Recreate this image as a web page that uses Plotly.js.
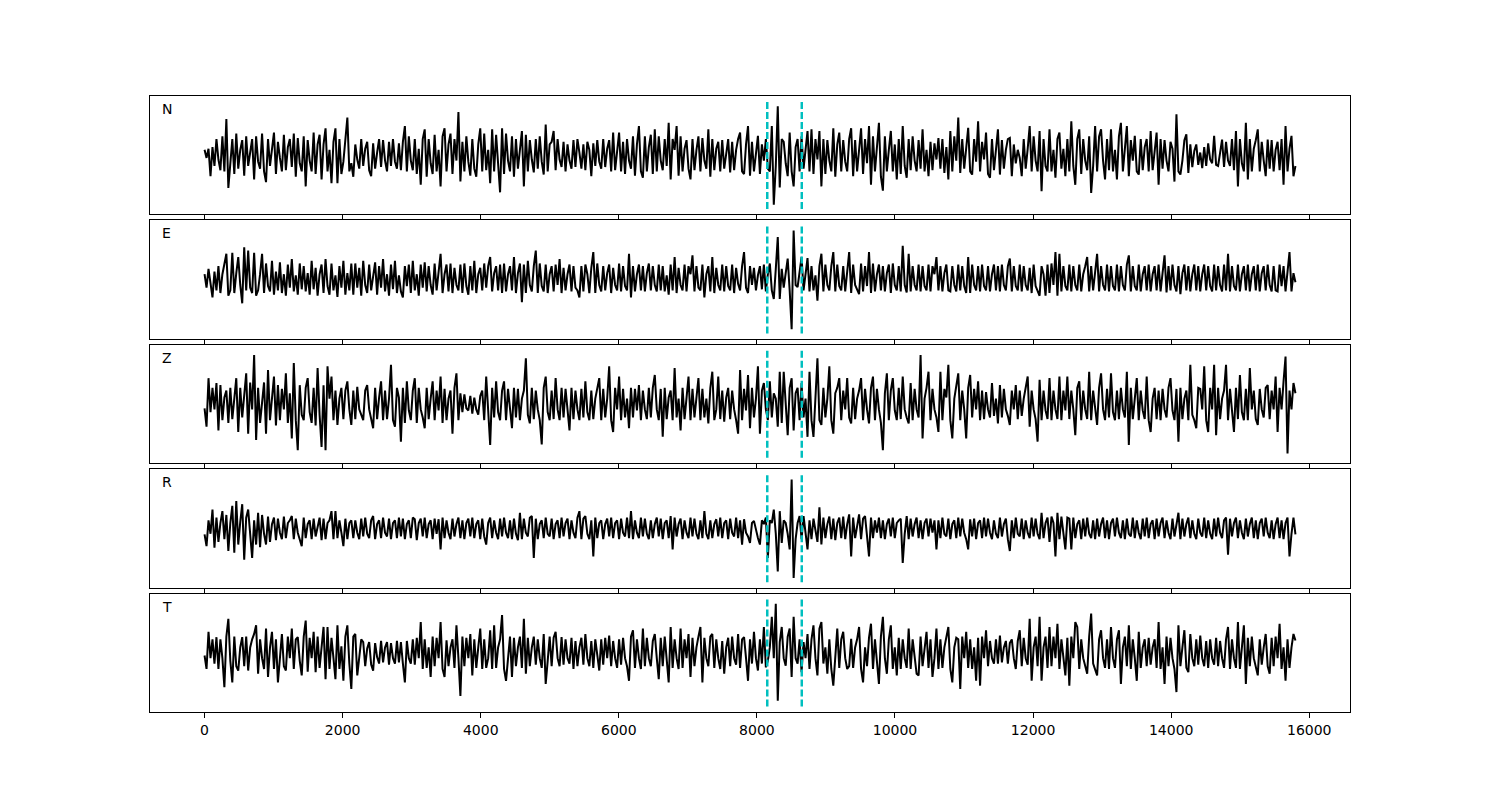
<!DOCTYPE html>
<html><head><meta charset="utf-8">
<script src="https://cdn.plot.ly/plotly-3.0.1.min.js"></script>
<style>html,body{margin:0;padding:0;background:#fff}#chart{width:1500px;height:800px}</style>
</head><body><div id="chart"></div>
<script>
// channel labels
const channels = ['N', 'E', 'Z', 'R', 'T'];
// amplitudes in hundredths of the normalised unit, evenly spaced over samples 0..15800
const seriesN = [
10,-5,12,-39,15,-20,30,-8,-28,35,-30,67,-61,-10,30,-35,40,-25,10,28,-38,35,-20,5,30,
-45,35,-12,-25,40,-30,-50,30,-20,8,42,-35,25,-5,-30,38,-28,15,30,-22,40,-40,32,-15,-30,
35,-58,28,-10,-30,42,-35,20,38,-45,20,50,-30,10,-52,25,50,-52,30,-35,-12,25,70,-30,-15,
-40,20,-8,-25,30,-20,12,25,-28,-39,22,-25,5,30,-22,28,-10,-30,25,-20,30,-12,-25,22,-28,
25,54,-30,35,-10,-28,30,-35,12,-55,30,48,-40,30,-15,-35,38,-30,10,-58,35,50,-30,20,40,
-35,30,-10,80,-49,25,-30,35,-12,-38,30,-25,-40,20,50,-30,40,-28,10,-52,48,-30,38,-20,-69,
50,-35,40,-10,-30,35,-40,30,-25,10,45,-58,38,-30,28,-8,-32,30,-25,35,-12,-36,57,-30,20,
25,45,-28,30,-8,-22,25,-30,20,-10,-25,28,-22,30,5,-25,20,-28,25,10,-39,22,-20,28,-12,
-25,30,-22,12,28,-30,42,-28,10,42,-30,25,-35,30,-10,-25,35,-38,20,54,-30,-42,35,-30,15,
38,-35,48,-30,35,-10,-28,30,-20,60,-45,30,10,54,-38,35,-30,12,28,-25,-45,30,-28,10,35,
-30,32,-10,-25,48,-40,30,-28,12,25,-30,28,-25,8,30,-32,25,-28,10,30,42,-30,-35,20,54,
-38,25,-30,10,36,-35,20,-10,30,-25,-30,54,-92,-20,91,-60,30,25,-15,-39,42,-30,-58,15,30,
-30,35,-25,10,45,-30,48,-35,30,-8,45,-58,30,-35,28,-10,-30,50,-40,20,42,-30,28,-12,-30,
30,50,-39,28,-30,10,50,-35,30,-15,54,-55,35,-30,12,60,-40,-66,35,-30,10,45,-30,20,-45,
30,-35,54,-20,-42,30,-28,35,-10,-30,28,-25,48,-30,10,-39,25,-28,22,-8,32,-25,30,-33,15,
-45,45,-30,35,-10,70,-33,30,-25,10,51,-30,-36,30,-12,63,-30,25,-8,42,-35,-42,30,-28,12,
48,-36,28,-25,10,30,32,-39,20,-15,10,-5,-39,30,-25,12,54,-30,35,-10,-30,45,-67,30,-20,
-30,48,-30,10,-42,30,42,-25,12,-39,30,-30,63,-20,-55,30,48,-35,30,-10,-28,35,-70,-20,54,
-30,35,48,-10,-45,30,-28,48,-30,10,-45,35,60,-30,12,54,-39,28,-10,36,-30,-36,30,-28,15,
30,-30,45,-28,10,42,-55,30,-25,28,-10,-30,25,12,-49,76,-30,-36,-10,28,39,-33,20,-22,8,
20,-18,5,-24,15,-20,22,-8,-15,36,-18,-20,10,29,-22,25,-10,-20,30,-28,45,-58,30,-15,-30,
60,-45,30,-30,12,28,48,-30,25,-10,-39,29,-25,28,-30,10,25,-28,30,-55,54,-30,12,36,-39,-20
];
const seriesE = [
10,-15,20,-8,-33,15,-20,25,-25,10,30,48,-30,-20,50,-25,12,42,-10,-44,60,-20,54,-15,-25,
50,-30,-20,10,48,-25,30,-12,-22,35,-28,15,-20,32,-25,10,-30,28,-15,38,-22,8,-28,30,-18,
25,-22,12,-28,35,-18,22,-30,10,28,-25,38,-12,-28,30,-20,8,-32,25,-15,35,-28,12,-20,30,
-28,30,-15,22,-30,35,-10,-25,28,-20,12,32,-28,25,-15,38,-22,10,-30,28,-18,35,-25,8,-22,
-33,25,-12,28,-25,35,-20,10,-30,28,-15,32,-22,25,-10,-28,30,-20,12,48,-25,10,28,-22,30,
-25,22,-10,-20,28,-25,30,-12,-28,25,-20,35,-25,10,22,-20,30,-15,25,42,-22,12,25,-20,28,
-25,30,-22,10,25,-20,42,-25,12,30,-42,28,-25,35,-10,-22,25,54,-25,30,-12,-22,28,-25,10,
25,-22,28,-10,38,-25,22,-20,10,28,-22,25,-15,-20,-33,25,-22,28,10,-25,22,51,-25,30,-10,
-22,25,-20,12,28,-25,22,-10,-20,30,-22,25,-12,-20,48,-33,25,-22,10,28,-20,25,-22,12,30,
-20,25,-10,-22,28,-20,25,-22,8,-28,28,-20,42,-25,22,-10,-20,28,-22,25,10,45,-22,25,-15,
-20,28,-33,10,25,-22,42,-25,22,-10,-20,28,-22,25,-12,-20,28,-25,22,-8,-20,25,51,-15,-25,
25,-10,22,-20,8,25,-18,28,-22,10,30,-20,-36,20,79,-36,20,-15,10,39,-20,-92,91,-10,-14,
20,42,-20,10,40,-22,25,-20,8,-39,25,48,-22,28,-10,-20,25,51,-22,28,-12,-20,25,-22,10,
51,-25,28,-10,-20,-27,30,-22,25,-12,51,-25,30,-22,10,28,-20,25,-22,12,28,-25,30,-10,-20,
25,-22,63,-10,-24,48,-22,25,-10,-20,28,-22,25,-12,-20,28,-22,25,10,42,-20,25,-22,12,28,
-20,-22,25,-10,-22,28,-20,25,-12,-25,42,-25,28,-10,-20,25,-22,28,-12,-20,25,-22,10,28,-20,
25,-22,28,-10,-20,25,39,-22,25,-12,-20,28,-22,25,-10,-20,22,-25,28,-12,-22,-30,25,10,-30,
28,-25,30,-10,51,-30,48,-22,25,-12,-20,28,-22,25,-10,-20,28,-22,10,25,42,-22,25,-20,12,
48,-22,25,-10,-20,28,-22,25,-12,-20,28,-22,25,-10,-20,28,45,-22,25,-12,-20,28,-22,10,25,
-20,28,-22,10,25,-20,28,-22,12,45,-24,25,-20,28,-10,-22,25,-27,12,28,-20,25,-22,10,28,
-20,25,-22,10,28,-20,25,-12,-22,28,-20,25,-10,-22,28,-20,48,-22,25,-12,-20,28,-22,10,25,
-20,28,-22,10,25,-20,28,-22,12,25,-20,28,-10,-22,25,-20,-22,28,-12,25,-22,10,51,-22,12,-5
];
const seriesZ = [
-8,-42,48,-15,30,-10,39,-49,35,-30,12,25,-35,30,-28,10,48,-52,30,-25,12,57,-55,40,-10,
91,-67,30,-35,10,40,-55,63,-30,12,51,-40,35,-30,28,-10,57,-35,20,-64,76,-30,-86,35,-20,
-30,30,48,-15,-35,30,-40,67,-20,-80,35,-86,70,10,51,-30,25,-39,10,30,-28,25,42,-10,-39,
25,-28,32,-10,-22,-30,25,35,-10,-25,-45,30,-28,12,42,-30,25,-28,10,73,-30,-42,30,12,-70,
30,-35,42,-12,-30,25,48,-35,30,-10,-25,-45,30,-28,10,42,-30,25,-12,51,-35,28,-30,10,25,
-55,30,57,-30,20,-15,18,-8,-12,15,-18,12,-10,-20,15,25,-30,51,-10,-76,30,-25,42,-15,-30,
25,42,-30,28,-10,-45,30,-25,28,-30,10,25,85,-20,-36,30,-28,25,-10,-30,-75,30,51,-15,-30,
25,-28,48,-10,-30,30,-25,28,-12,-49,30,-28,25,-10,-30,28,-25,42,-15,-30,25,-28,10,30,48,
-30,28,-25,10,70,-30,-52,30,-10,51,-30,28,-25,10,-45,30,-25,28,-12,35,-30,25,-10,-28,30,
-25,30,54,-10,-30,28,-61,30,-28,12,25,-30,67,-25,10,-49,30,-28,12,51,-30,28,-25,10,48,
-30,28,-25,10,-36,30,60,-30,-10,51,-28,25,-33,12,30,-28,25,-10,-30,-55,63,-30,28,-12,54,
-45,30,-25,10,70,-55,25,39,-10,-30,42,-25,20,10,-42,60,-35,60,-10,-58,30,48,-49,20,30,
-30,39,-25,10,-61,60,-30,-61,10,85,-30,-39,30,-25,10,70,-30,-55,20,30,48,-30,25,-10,48,
-25,-36,30,-28,10,25,48,-30,28,-10,-36,30,51,-30,28,-10,-35,-86,20,57,-30,25,48,-12,-30,
30,-28,51,-10,-25,-36,39,-30,28,-10,-25,91,-64,10,30,60,-30,28,-10,-25,-52,60,-30,28,12,
73,-30,-64,10,30,57,-30,25,-10,-64,30,54,-25,28,-10,42,-30,25,-28,22,-10,-25,39,-22,10,
-36,35,-25,28,-10,-22,-39,25,-10,35,-28,25,-22,10,28,51,-42,25,-10,-28,-70,45,-30,25,-12,
-28,48,-30,25,-10,-28,51,-30,25,-12,51,-28,25,-10,-58,30,42,-30,25,-10,-28,60,-30,25,-12,
-39,30,57,-10,-30,28,-25,57,-15,-30,25,-28,30,-10,-25,60,-76,30,-28,10,48,-30,25,-12,-28,
51,-30,-52,10,30,-28,25,-30,28,-10,-25,30,48,-12,-30,28,-70,30,-28,10,25,-30,73,-20,-30,
-45,30,28,-10,70,-30,-52,30,-10,73,-58,30,-28,10,25,73,-30,28,-10,-52,30,-28,54,-15,-30,
28,-30,67,-10,25,-28,-39,28,-10,-25,30,35,-28,25,-10,51,-52,30,-10,42,88,-92,25,-10,39,20
];
const seriesR = [
-11,-33,15,-10,35,-36,20,-25,10,32,-20,25,-42,10,42,-45,51,-30,12,45,-58,20,35,-10,-55,
15,-30,29,-35,25,-10,-30,22,-25,8,20,-22,18,-8,-20,22,-18,10,15,23,-20,18,-8,-22,-33,
20,-18,8,15,-20,18,-15,5,20,-22,18,-20,10,15,32,-20,32,-18,15,-8,-33,18,-20,10,15,
-18,15,-8,-20,18,-15,20,-10,-18,15,23,-20,8,15,-18,20,-8,-15,18,-20,10,15,-18,20,-15,
18,-20,8,15,-18,20,17,-22,10,18,-15,20,-18,8,15,-20,18,-10,17,-39,20,-18,15,-8,-20,
18,-15,8,20,-18,15,-20,10,18,-15,20,-18,8,15,-20,18,-15,-30,10,20,-18,15,-8,-20,18,
-15,20,-8,-18,15,-20,18,-10,-22,29,-20,18,-8,-15,20,23,-55,18,-20,8,15,-18,20,-10,-15,
18,-20,8,15,-18,20,-15,10,18,-20,15,-8,-18,20,32,-20,18,23,-10,-20,15,-52,20,-18,10,
15,-20,8,18,-15,20,-18,10,15,-20,18,-8,-15,20,-18,32,-20,15,-8,-18,20,-15,18,-10,-20,
15,-18,8,20,-15,18,-20,10,15,-18,23,-39,20,-15,8,18,-20,15,-8,-18,20,-15,18,-10,-20,
15,-18,32,-10,-20,15,-18,8,17,-15,20,-18,10,15,-20,18,-8,-15,20,-18,15,-30,17,-8,-15,
-27,10,14,-5,-18,-30,15,8,20,-55,15,10,35,-10,-80,32,-27,15,10,-10,-39,91,-92,-20,10,
23,-20,23,-10,-39,15,-20,18,-8,-25,39,-30,20,-18,8,22,-20,18,-22,10,20,-18,22,-20,8,
26,-52,20,-18,8,26,-20,18,23,-10,-52,20,-18,15,-8,20,-18,15,-20,8,18,-15,20,-18,10,
15,18,-64,-10,23,-20,18,-15,8,20,-18,15,-20,10,18,-15,18,-8,15,-39,15,-18,20,-10,-15,
18,-20,8,15,-18,20,-15,18,-8,-20,-39,17,-15,18,-20,10,15,-18,20,-15,18,-8,-20,15,-10,
-18,20,-15,8,18,-20,-42,15,-18,20,-10,-15,18,-20,15,-8,-18,20,-15,18,-10,-20,29,-18,10,
20,-25,22,10,-52,29,-20,22,-10,-39,20,18,-39,20,-18,8,15,-20,18,-15,20,-10,-18,15,-20,
18,-15,8,20,-18,15,-20,10,18,-15,20,-8,-18,15,-20,18,-10,-15,20,-18,15,-8,-20,18,-15,
20,-18,8,15,-20,18,-15,10,20,-18,15,-8,-20,18,-15,10,29,-20,18,-15,8,20,-18,15,-10,
-20,18,-8,-15,20,-18,15,-10,-20,18,-15,20,-8,-18,15,20,-49,18,-15,10,20,-18,15,-8,-20,
18,-15,8,20,-18,15,-20,10,18,-15,20,-8,-18,15,-20,8,20,-18,15,-20,10,20,-52,-10,20,-11
];
const seriesT = [
-5,-30,39,-10,25,-20,29,-30,25,-10,-64,30,63,-15,-55,30,-25,-33,10,29,-25,30,-33,10,25,
35,51,-39,25,-10,-30,45,-45,10,39,-30,25,-55,-10,35,-25,-33,30,-10,45,-30,25,29,-15,-42,
30,60,-35,28,-10,39,-36,30,-28,10,48,-49,48,-30,28,-10,-49,51,-30,12,-52,30,51,-20,-67,
30,35,-42,-10,25,20,-25,8,20,-22,-33,18,-8,-20,22,-18,10,20,-22,18,-10,-20,22,-18,20,
-20,-55,22,-10,-20,25,-22,28,-10,57,-30,25,-28,10,-45,30,-25,28,-10,57,-30,-45,23,-25,10,
25,-28,51,-10,-80,30,-25,28,-10,35,-42,25,-28,10,45,-30,25,-28,-10,42,-30,51,-28,10,25,
70,-30,-52,-10,30,-45,28,-25,10,30,-28,63,-39,28,-25,10,30,-22,25,-10,-28,35,-58,-15,30,
-25,28,39,-10,-25,29,-22,25,-10,-20,28,-30,22,-25,10,28,-22,35,-10,-25,22,-28,25,-10,-33,
25,-22,28,-10,32,-25,22,-10,-28,25,-22,28,-10,-25,-52,30,42,-28,25,-10,-30,45,-25,28,-10,
-25,22,35,-10,-49,28,-25,30,-10,-55,48,-28,25,-10,-30,45,-28,25,-10,35,-45,28,-25,10,30,
48,-55,28,-10,-25,30,35,-28,25,-10,-30,22,-39,10,28,-25,30,-10,-22,35,-28,25,29,-10,-52,
25,-20,39,-10,-33,25,-20,48,-27,-15,10,67,-10,91,-89,20,48,-10,-24,30,45,-45,67,-10,-20,
25,-36,20,-10,35,-30,25,51,-10,-42,45,57,-20,10,-39,25,-30,-61,-10,45,-28,25,39,-10,-30,
-25,26,-28,10,25,48,-30,-55,10,-25,28,54,-30,25,-10,-58,30,67,-10,-39,25,51,-30,10,-42,
28,-30,25,-10,-28,45,-30,25,-10,-39,-42,30,-25,10,39,-28,25,-45,-10,45,-30,25,-28,10,30,
48,-30,-55,10,28,25,-67,30,-10,39,-28,25,-30,10,-52,28,-61,30,-10,42,-25,22,-10,-20,25,
-20,32,-18,10,22,-20,18,25,-10,-30,22,42,-25,28,-10,-22,63,-52,10,30,-25,67,-52,10,30,
-28,48,-25,30,-10,54,-30,25,-10,-42,28,-61,30,-10,57,48,-30,25,-10,-28,-39,30,73,-20,-30,
-42,25,42,-10,-28,25,-30,48,-10,-28,25,42,-58,10,30,-25,51,-30,25,-10,-52,39,-28,10,25,
-25,28,-22,10,25,-28,57,-30,10,-58,30,-25,28,-10,-30,-73,51,-25,10,42,-28,-36,35,-10,-25,
25,-22,32,-10,-25,22,-28,25,-10,-22,28,-25,22,-10,-28,25,48,-30,25,-10,-28,57,-30,10,51,
-58,28,-25,30,-10,-28,-42,25,-22,10,35,-25,-39,28,-25,30,-10,54,-30,10,-52,25,-28,10,35,23
];
const sampleStart = 0;
const sampleEnd = 15800;
const ampScale = 100;
const markerSamples = [8150, 8650];
const tickVals = [0, 2000, 4000, 6000, 8000, 10000, 12000, 14000, 16000];

const allSeries = [seriesN, seriesE, seriesZ, seriesR, seriesT];
const PLOT_H = 616, PANEL_H = 118.4, GAP = 6.0;
const font = {family: 'DejaVu Sans, sans-serif', size: 14, color: '#000'};
const traces = [];
const annotations = [];
const layout = {
  width: 1500, height: 800,
  margin: {l: 150, r: 150, t: 96, b: 88, pad: 0},
  paper_bgcolor: '#fff', plot_bgcolor: '#fff',
  showlegend: false, font: font, hovermode: false
};
allSeries.forEach((s, k) => {
  const suf = k === 0 ? '' : String(k + 1);
  const n = s.length;
  const dx = (sampleEnd - sampleStart) / (n - 1);
  const xs = s.map((_, i) => sampleStart + i * dx);
  const ys = s.map(v => v / ampScale);
  traces.push({type: 'scatter', mode: 'lines', x: xs, y: ys, xaxis: 'x' + suf, yaxis: 'y' + suf,
    line: {color: '#000', width: 2}, hoverinfo: 'skip'});
  markerSamples.forEach(m => {
    traces.push({type: 'scatter', mode: 'lines', x: [m, m], y: [-1, 1], xaxis: 'x' + suf, yaxis: 'y' + suf,
      line: {color: '#00bfbf', width: 2.5, dash: '7px,3px'}, hoverinfo: 'skip'});
  });
  const top = 1 - k * (PANEL_H + GAP) / PLOT_H;
  const bot = Math.max(0, top - PANEL_H / PLOT_H);
  layout['xaxis' + suf] = {
    domain: [0, 1], anchor: 'y' + suf, range: [-790, 16590],
    tickvals: tickVals, ticktext: tickVals.map(String), showticklabels: k === 4,
    ticks: 'outside', ticklen: 5, tickwidth: 1, tickcolor: '#000',
    showline: true, mirror: true, linecolor: '#000', linewidth: 1,
    showgrid: false, zeroline: false, tickfont: font, fixedrange: true
  };
  layout['yaxis' + suf] = {
    domain: [bot, top], anchor: 'x' + suf, range: [-1.1, 1.1],
    showticklabels: false, ticks: '', showline: true, mirror: true,
    linecolor: '#000', linewidth: 1, showgrid: false, zeroline: false, fixedrange: true
  };
  annotations.push({text: channels[k], xref: 'x' + suf + ' domain', yref: 'y' + suf + ' domain',
    x: 0.0083, y: 1, xanchor: 'left', yanchor: 'top', yshift: -3, showarrow: false, font: font});
});
layout.annotations = annotations;
Plotly.newPlot('chart', traces, layout, {staticPlot: true, displayModeBar: false});
</script></body></html>
